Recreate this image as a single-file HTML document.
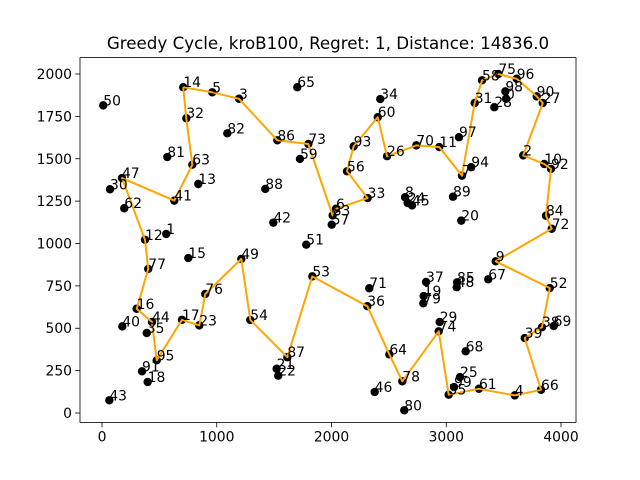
<!DOCTYPE html>
<html><head><meta charset="utf-8"><style>
html,body{margin:0;padding:0;background:#fff;}
svg{display:block;font-family:"DejaVu Sans","Liberation Sans",sans-serif;}
</style></head><body>
<svg id="chart" width="640" height="480" viewBox="0 0 640 480" xmlns="http://www.w3.org/2000/svg">
<rect x="0" y="0" width="640" height="480" fill="#fff"/>
<text x="328" y="49" text-anchor="middle" font-size="16.7">Greedy Cycle, kroB100, Regret: 1, Distance: 14836.0</text>
<g id="plot"></g>
</svg>
<script>
const labels = [14,5,3,65,50,32,82,86,73,59,81,63,47,30,13,41,88,62,42,1,12,34,60,93,26,70,11,97,58,75,96,98,0,28,31,90,27,2,10,92,94,7,56,33,8,24,45,89,6,83,57,20,84,72,77,15,49,51,53,76,16,44,40,35,17,23,54,95,91,18,87,21,22,43,71,36,37,19,79,85,48,67,9,52,38,69,39,29,74,68,64,78,46,80,25,99,55,61,4,66];
const xVals = [708,961,1194,1702,11,735,1092,1528,1798,1725,569,787,174,70,839,630,1423,194,1493,560,375,2425,2403,2193,2484,2739,2939,3111,3312,3454,3614,3515,3521,3419,3248,3788,3841,3671,3854,3913,3218,3137,2135,2315,2641,2664,2702,3059,2039,2010,2002,3131,3869,3919,403,752,1214,1780,1833,900,302,436,177,390,697,848,1292,477,349,398,1615,1522,1536,64,2329,2312,2824,2803,2800,3094,3091,3366,3431,3902,3834,3936,3684,2943,2934,3169,2504,2617,2376,2634,3120,3068,3021,3285,3597,3826];
const yVals = [1922,1892,1854,1922,1815,1739,1650,1609,1587,1499,1510,1465,1386,1320,1351,1253,1322,1208,1123,1056,1022,1852,1745,1573,1515,1579,1569,1627,1963,2000,1972,1898,1854,1804,1829,1868,1829,1520,1469,1440,1450,1400,1426,1268,1273,1239,1225,1276,1205,1166,1111,1135,1164,1087,850,914,909,993,806,702,615,537,511,472,550,517,549,311,246,183,329,261,220,75,736,630,773,690,647,771,742,789,895,737,506,513,442,537,482,364,346,187,124,16,212,153,108,143,104,137];
const tour = [14,5,3,86,73,83,6,33,56,93,60,26,70,11,7,31,58,75,96,90,27,2,10,92,84,72,9,52,38,39,66,4,61,55,74,78,64,36,53,87,54,49,76,23,17,95,44,16,77,12,47,41,63,32,14];
const xTicks = [0,1000,2000,3000,4000];
const yTicks = [0,250,500,750,1000,1250,1500,1750,2000];

const L=80,R=576,T=57.6,B=422.4;
const xMin=-191.7,xMax=4130.7,yMin=-55.5,yMax=2096.8;
const sx=v=>L+(v-xMin)/(xMax-xMin)*(R-L);
const sy=v=>B-(v-yMin)/(yMax-yMin)*(B-T);
const NS="http://www.w3.org/2000/svg";
const g=document.getElementById('plot');
function mk(t,a){const e=document.createElementNS(NS,t);for(const k in a)e.setAttribute(k,a[k]);g.appendChild(e);return e;}

xTicks.forEach(v=>{
  const t=mk('line',{x1:sx(v),x2:sx(v),y1:B,y2:B+4.9,stroke:'#000','stroke-width':0.8});
  
  
  const l=mk('text',{x:sx(v),y:B+19,'text-anchor':'middle','font-size':'13.9'});
  
  
  l.textContent=v;
});
yTicks.forEach(v=>{
  const t=mk('line',{x1:L-4.9,x2:L,y1:sy(v),y2:sy(v),stroke:'#000','stroke-width':0.8});
  
  
  const l=mk('text',{x:L-8,y:sy(v)+5,'text-anchor':'end','font-size':'13.9'});
  
  
  l.textContent=v;
});

labels.forEach((lab,i)=>{
  const c=mk('circle',{cx:sx(xVals[i]),cy:sy(yVals[i]),r:4.2,fill:'#000'});
  
  
});
const pts=tour.map(l=>{const i=labels.indexOf(l);return sx(xVals[i]).toFixed(1)+','+sy(yVals[i]).toFixed(1);}).join(' ');
const pl=mk('polyline',{points:pts,fill:'none',stroke:'#ffa500','stroke-width':2,'stroke-linejoin':'round'});


labels.forEach((lab,i)=>{
  const t=mk('text',{x:sx(xVals[i]),y:sy(yVals[i]),'font-size':'13.9'});
  
  
  t.textContent=lab;
});
const f=mk('rect',{x:L,y:T,width:R-L,height:B-T,fill:'none',stroke:'#000','stroke-width':0.8});


</script>
</body></html>
